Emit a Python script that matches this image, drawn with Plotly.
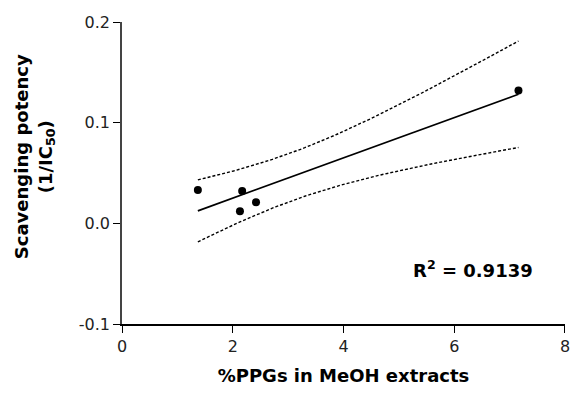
import numpy as np
import plotly.graph_objects as go

# Data
ppg_percent = [1.37, 2.13, 2.17, 2.42, 7.16]
scavenging_potency = [0.033, 0.012, 0.032, 0.021, 0.132]
r2_label = "R<sup>2</sup> = 0.9139"
x_ticks = [0, 2, 4, 6, 8]
y_ticks = [-0.1, 0.0, 0.1, 0.2]
y_tick_text = ["-0.1", "0.0", "0.1", "0.2"]

# Linear regression with 95% confidence bands
x = np.array(ppg_percent)
y = np.array(scavenging_potency)
n = len(x)
slope, intercept = np.polyfit(x, y, 1)
resid = y - (slope * x + intercept)
s = np.sqrt(np.sum(resid ** 2) / (n - 2))
sxx = np.sum((x - x.mean()) ** 2)
t_crit = 3.182  # t(0.975, df=3)
xf = np.linspace(x.min(), x.max(), 100)
yf = slope * xf + intercept
half = t_crit * s * np.sqrt(1 / n + (xf - x.mean()) ** 2 / sxx)

fig = go.Figure()
dash_style = dict(color="black", width=1.4, dash="3px,2px")
fig.add_trace(go.Scatter(x=xf, y=yf + half, mode="lines", line=dash_style, hoverinfo="skip"))
fig.add_trace(go.Scatter(x=xf, y=yf - half, mode="lines", line=dash_style, hoverinfo="skip"))
fig.add_trace(go.Scatter(x=xf, y=yf, mode="lines", line=dict(color="black", width=1.7)))
fig.add_trace(go.Scatter(x=ppg_percent, y=scavenging_potency, mode="markers",
                         marker=dict(color="black", size=8), cliponaxis=False))

TICK_FONT = dict(family="DejaVu Sans", size=16, color="#222")
TITLE_FONT = dict(family="DejaVu Sans", size=18, color="black")

fig.add_annotation(x=7.45, y=-0.045, xref="x", yref="y", text="<b>" + r2_label + "</b>",
                   showarrow=False, xanchor="right", yanchor="middle",
                   font=dict(family="DejaVu Sans", size=18, color="black"))

# Y-axis title placed as a rotated annotation (sits slightly above the plot centre)
fig.add_annotation(x=-0.196, y=0.553, xref="paper", yref="paper",
                   text="<b>Scavenging potency<br>(1/IC<sub>50</sub>)</b>",
                   textangle=-90, showarrow=False, xanchor="center", yanchor="middle",
                   font=TITLE_FONT)

# The page body adds an 8px margin; size the figure so the page does not scroll.
fig.update_layout(
    width=571, height=378,
    margin=dict(l=114, r=14, t=14, b=62),
    paper_bgcolor="white", plot_bgcolor="white",
    showlegend=False,
    font=dict(family="DejaVu Sans", size=16, color="black"),
    xaxis=dict(range=[0, 8.0001], tickvals=x_ticks, ticks="outside", ticklen=7, tickwidth=1.2,
               tickcolor="black", showline=True, linecolor="black", linewidth=1.8,
               showgrid=False, zeroline=False, automargin=False, tickfont=TICK_FONT,
               ticklabeloverflow="allow",
               title=dict(text="<b>%PPGs in MeOH extracts</b>", font=TITLE_FONT, standoff=17)),
    yaxis=dict(range=[-0.1, 0.2], tickvals=y_ticks, ticktext=y_tick_text, ticks="outside",
               ticklen=7, tickwidth=1.2, tickcolor="black", showline=True, linecolor="#444",
               linewidth=1.5, showgrid=False, zeroline=False, automargin=False,
               tickfont=TICK_FONT),
)

fig.write_html("out.html")
